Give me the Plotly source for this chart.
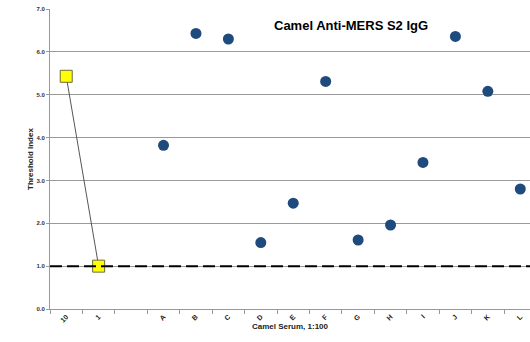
import plotly.graph_objects as go

categories = ["10", "1", " ", "A", "B", "C", "D", "E", "F", "G", "H", "I", "J", "K", "L"]
control_labels = ["10", "1"]
control_values = [5.43, 1.0]
sample_labels = ["A", "B", "C", "D", "E", "F", "G", "H", "I", "J", "K", "L"]
sample_values = [3.82, 6.43, 6.30, 1.55, 2.47, 5.31, 1.61, 1.96, 3.42, 6.36, 5.08, 2.80]
threshold = 1.0
title_text = "Camel Anti-MERS S2 IgG"
x_title = "Camel Serum, 1:100"
y_title = "Threshold Index"

FONT = "Liberation Sans, Arial, sans-serif"

fig = go.Figure()
fig.add_trace(go.Scatter(
    x=control_labels, y=control_values, mode="lines+markers",
    line=dict(color="#555555", width=1),
    marker=dict(symbol="square", size=12, color="#FFFF00",
                line=dict(color="#6b6b3a", width=1)),
    showlegend=False,
))
fig.add_trace(go.Scatter(
    x=sample_labels, y=sample_values, mode="markers",
    marker=dict(symbol="circle", size=11, color="#1F4A7E",
                line=dict(color="#1F4A7E", width=0)),
    showlegend=False,
))

fig.add_shape(type="line", xref="paper", yref="y", x0=0, x1=1,
              y0=threshold, y1=threshold,
              line=dict(color="black", width=2, dash="12px,5px"),
              layer="above")

fig.add_annotation(text="<b>" + title_text + "</b>", xref="paper", yref="paper",
                   x=(351 - 50) / 480, y=(342 - 33 - 26) / 300,
                   showarrow=False, font=dict(family=FONT, size=13, color="black"),
                   xanchor="center", yanchor="middle")

fig.update_layout(
    width=530, height=342,
    margin=dict(l=50, r=0, t=9, b=33),
    paper_bgcolor="white", plot_bgcolor="white",
    font=dict(family=FONT, color="#333333"),
    xaxis=dict(
        type="category", categoryorder="array", categoryarray=categories,
        range=[-0.5, 14.3], tickson="boundaries", ticks="outside", ticklen=4,
        tickcolor="#999999", showgrid=False, showline=True, linecolor="#999999",
        linewidth=1, tickangle=-45,
        tickfont=dict(family=FONT, size=7, color="#222222", weight="bold"),
        title=dict(text="<b>" + x_title + "</b>", font=dict(family=FONT, size=8, color="#222222"),
                   standoff=0),
        zeroline=False, automargin=False,
    ),
    yaxis=dict(
        range=[0, 7], dtick=1, tickformat=".1f", ticks="outside", ticklen=3,
        tickcolor="#999999", showgrid=True, gridcolor="#9a9a9a", gridwidth=1,
        showline=True, linecolor="#999999", linewidth=1,
        tickfont=dict(family=FONT, size=6, color="#333333", weight="bold"),
        title=dict(text="<b>" + y_title + "</b>", font=dict(family=FONT, size=8, color="#222222"),
                   standoff=1),
        zeroline=False, automargin=False,
    ),
)

fig.write_html("out.html", config={"displayModeBar": False},
               post_script="document.body.style.margin='0';document.body.style.overflow='hidden';")
